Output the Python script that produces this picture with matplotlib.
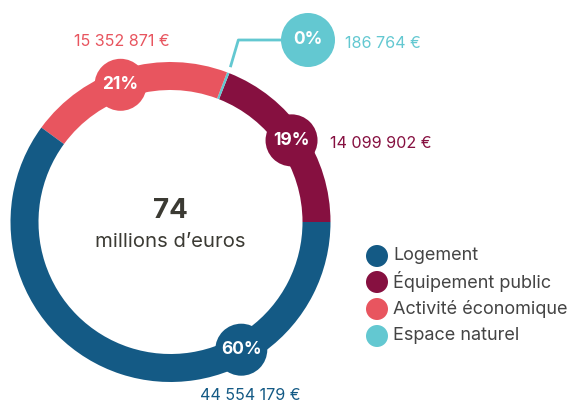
import numpy as np
import matplotlib
matplotlib.use('Agg')
import matplotlib.pyplot as plt
from matplotlib.patches import Circle

plt.rcParams['font.family'] = ['Inter', 'DejaVu Sans']

# data
categories = ['Logement', 'Équipement public', 'Activité économique', 'Espace naturel']
amounts = [44554179, 14099902, 15352871, 186764]
total_label = '74'
total_unit = 'millions d\u2019euros'
colors = ['#145a85', '#861040', '#e8555f', '#63c8d1']

# order of wedges counterclockwise starting at 3 o'clock
ring_order = [1, 3, 2, 0]

W, H = 573, 403
fig = plt.figure(figsize=(W / 100, H / 100), dpi=100)
ax = fig.add_axes([0, 0, 1, 1])

cx, cy = 170.5, H - 222
r_out, ring_w = 160, 28

wedges, _ = ax.pie([amounts[i] for i in ring_order], colors=[colors[i] for i in ring_order],
                   startangle=0, counterclock=True, radius=r_out, center=(cx, cy),
                   wedgeprops=dict(width=ring_w, linewidth=0), frame=True)
ax.set_xlim(0, W)
ax.set_ylim(0, H)
ax.set_aspect('equal')
ax.axis('off')

total = sum(amounts)
pct = [f'{round(a / total * 100)}%' for a in amounts]

def fmt(v):
    return f'{v:,}'.replace(',', ' ') + ' \u20ac'

# bubbles on the ring
r_mid = r_out - ring_w / 2
bubble_r = 26
bubble_angle = {0: -61, 1: 34, 2: 110}
for i, ang in bubble_angle.items():
    bx = cx + r_mid * np.cos(np.radians(ang))
    by = cy + r_mid * np.sin(np.radians(ang))
    ax.add_patch(Circle((bx, by), bubble_r, color=colors[i], lw=0, zorder=3))
    ax.text(bx, by, pct[i], color='white', fontsize=12.5, fontweight='bold',
            ha='center', va='center', zorder=4)

# small slice: bubble outside with leader line
w_esp = wedges[ring_order.index(3)]
mid = np.radians((w_esp.theta1 + w_esp.theta2) / 2)
sx, sy = cx + 166 * np.cos(mid), cy + 166 * np.sin(mid)
ex, ey = 308, H - 40
ax.plot([sx, sx + 8, ex - bubble_r], [sy, ey, ey], color=colors[3], lw=2,
        solid_capstyle='butt', zorder=2)
ax.add_patch(Circle((ex, ey), bubble_r + 1, color=colors[3], lw=0, zorder=3))
ax.text(ex, ey, pct[3], color='white', fontsize=12.5, fontweight='bold',
        ha='center', va='center', zorder=4)

# amount labels
amount_pos = {0: (250, H - 396, 'center'), 1: (330, H - 143, 'left'),
              2: (122, H - 42, 'center'), 3: (345, H - 43, 'left')}
for i, (x, y, ha) in amount_pos.items():
    ax.text(x, y, fmt(amounts[i]), color=colors[i], fontsize=11.6, ha=ha, va='center')

# center text
ax.text(cx, H - 211, total_label, color='#3b3a33', fontsize=20, fontweight='bold',
        ha='center', va='center')
ax.text(cx, H - 242, total_unit, color='#3b3a33', fontsize=14.6, ha='center', va='center')

# legend
leg_y = [256, 282, 309, 336]
for i, y in enumerate(leg_y):
    ax.add_patch(Circle((377, H - y), 11, color=colors[i], lw=0))
    ax.text(393, H - y, categories[i], color='#444444', fontsize=13, ha='left', va='center')

fig.savefig('out.png', dpi=100)
